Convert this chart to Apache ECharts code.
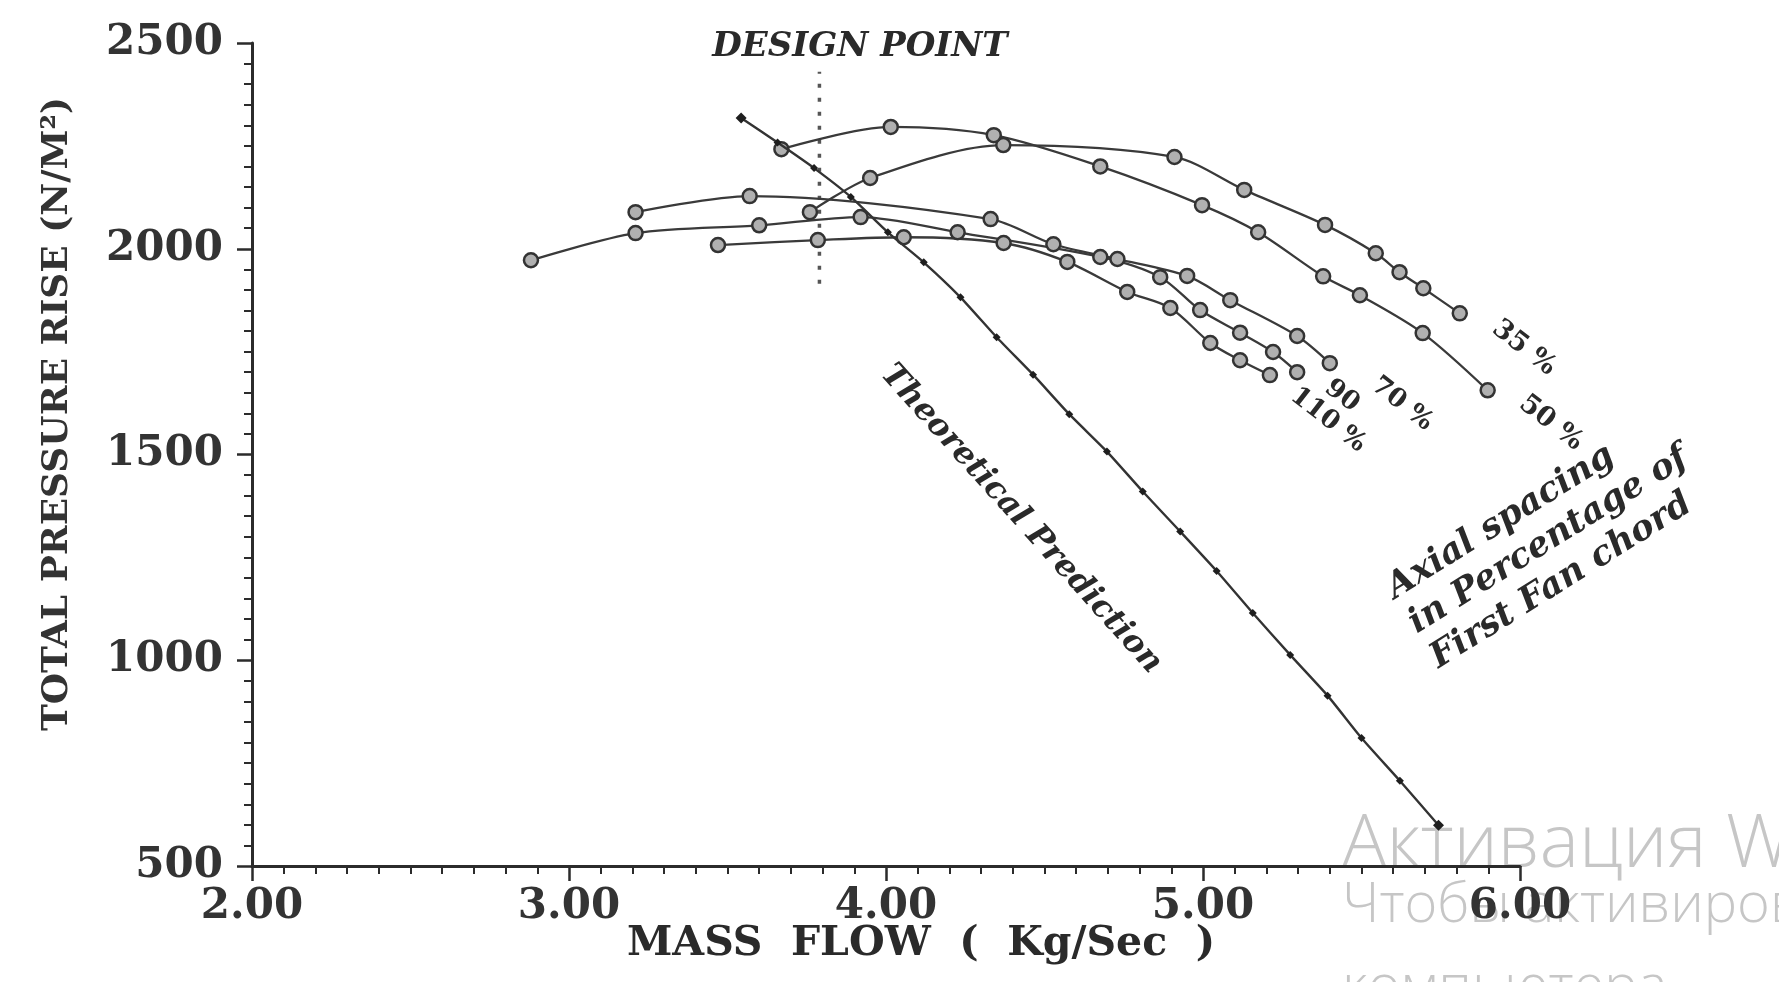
<!DOCTYPE html>
<html>
<head>
<meta charset="utf-8">
<script src="https://cdn.jsdelivr.net/npm/echarts@6.0.0/dist/echarts.min.js"></script>
<style>
html,body{margin:0;padding:0;background:#ffffff;}
#chart{width:1779px;height:982px;}
</style>
</head>
<body>
<div id="chart"></div>
<script>
// ---------- data ----------
const xTickValues = [2, 3, 4, 5, 6];
const yTickValues = [500, 1000, 1500, 2000, 2500];

// Theoretical prediction
const theoryFlow = [3.543, 3.658, 3.773, 3.889, 4.006, 4.119, 4.235, 4.349, 4.464, 4.578, 4.697, 4.810, 4.928, 5.043, 5.157, 5.275, 5.393, 5.500, 5.621, 5.743];
const theoryRise = [2318, 2258, 2196, 2126, 2040, 1967, 1882, 1785, 1694, 1598, 1507, 1410, 1313, 1217, 1115, 1013, 914, 811, 707, 599];

// Axial spacing 35 %
const flow35 = [3.76, 3.95, 4.37, 4.91, 5.13, 5.385, 5.545, 5.62, 5.695, 5.81];
const rise35 = [2089, 2172, 2252, 2223, 2143, 2058, 1989, 1943, 1904, 1843];

// Axial spacing 50 %
const flow50 = [3.67, 4.015, 4.34, 4.676, 4.997, 5.174, 5.379, 5.495, 5.693, 5.898];
const rise50 = [2242, 2296, 2276, 2200, 2106, 2040, 1933, 1887, 1795, 1656];

// Axial spacing 70 %
const flow70 = [3.21, 3.57, 4.33, 4.528, 4.73, 4.95, 5.086, 5.297, 5.40];
const rise70 = [2089, 2128, 2072, 2011, 1975, 1934, 1875, 1788, 1722];

// Axial spacing 90 %
const flow90 = [2.88, 3.21, 3.60, 3.92, 4.226, 4.676, 4.865, 4.991, 5.117, 5.221, 5.297];
const rise90 = [1972, 2038, 2057, 2077, 2040, 1980, 1931, 1851, 1796, 1749, 1700];

// Axial spacing 110 %
const flow110 = [3.47, 3.785, 4.056, 4.371, 4.572, 4.761, 4.897, 5.023, 5.117, 5.211];
const rise110 = [2009, 2021, 2028, 2014, 1968, 1895, 1856, 1771, 1729, 1693];

// Design point marker line
const designFlow = [3.79, 3.79];
const designRise = [1915, 2430];

// ---------- chart ----------
function pairs(xs, ys) { return xs.map((v, i) => [v, ys[i]]); }

const ink = '#2b2b2b';
const serif = "'DejaVu Serif', 'Liberation Serif', serif";
const wmFont = '"Open Sans", "Noto Sans", sans-serif';
const deg = Math.PI / 180;

function expSeries(name, xs, ys) {
  return {
    name: name,
    type: 'line',
    data: pairs(xs, ys),
    smooth: 0.3,
    symbol: 'circle',
    symbolSize: 14,
    showAllSymbol: true,
    lineStyle: { color: '#3a3a3a', width: 2.3 },
    itemStyle: { color: '#b0b0b0', borderColor: '#333333', borderWidth: 2.5 },
    z: 3
  };
}

const chart = echarts.init(document.getElementById('chart'), null, { renderer: 'canvas' });

const option = {
  animation: false,
  backgroundColor: '#ffffff',
  grid: { left: 252, right: 259, top: 43, bottom: 116, containLabel: false, outerBoundsMode: 'none' },
  xAxis: {
    type: 'value',
    min: xTickValues[0],
    max: xTickValues[xTickValues.length - 1],
    interval: 1,
    axisLine: { onZero: false, lineStyle: { color: ink, width: 3 } },
    axisTick: { show: true, length: 15, lineStyle: { color: ink, width: 2.5 } },
    minorTick: { show: true, splitNumber: 10, length: 8, lineStyle: { color: ink, width: 2 } },
    splitLine: { show: false },
    minorSplitLine: { show: false },
    axisLabel: {
      margin: 20,
      color: '#333',
      fontFamily: serif,
      fontWeight: 'bold',
      fontSize: 42,
      formatter: v => v.toFixed(2)
    }
  },
  yAxis: {
    type: 'value',
    min: yTickValues[0],
    max: yTickValues[yTickValues.length - 1],
    interval: 500,
    axisLine: { show: true, onZero: false, lineStyle: { color: ink, width: 3 } },
    axisTick: { show: true, length: 15, lineStyle: { color: ink, width: 2.5 } },
    minorTick: { show: true, splitNumber: 10, length: 8, lineStyle: { color: ink, width: 2 } },
    splitLine: { show: false },
    minorSplitLine: { show: false },
    axisLabel: {
      margin: 29,
      color: '#333',
      fontFamily: serif,
      fontWeight: 'bold',
      fontSize: 42,
      formatter: v => String(v)
    }
  },
  series: [
    {
      name: 'Design point',
      type: 'line',
      data: pairs(designFlow, designRise),
      symbol: 'none',
      lineStyle: { color: '#555', width: 3.5, type: [4, 10] },
      z: 1
    },
    {
      name: 'Theoretical Prediction',
      type: 'line',
      data: pairs(theoryFlow, theoryRise),
      smooth: 0.2,
      symbol: 'diamond',
      symbolSize: (v, p) => (p.dataIndex === 0 || p.dataIndex === theoryFlow.length - 1) ? 11 : 8,
      showAllSymbol: true,
      lineStyle: { color: '#333', width: 2.4 },
      itemStyle: { color: '#1e1e1e' },
      z: 4
    },
    expSeries('35 %', flow35, rise35),
    expSeries('50 %', flow50, rise50),
    expSeries('70 %', flow70, rise70),
    expSeries('90 %', flow90, rise90),
    expSeries('110 %', flow110, rise110)
  ],
  graphic: [
    // axis titles
    { type: 'text', x: 58, y: 414, rotation: 90 * deg,
      style: { text: 'TOTAL PRESSURE RISE (N/M²)', fill: '#333', font: 'bold 36px ' + serif, align: 'center', verticalAlign: 'middle' } },
    { type: 'text', x: 921, y: 944,
      style: { text: 'MASS  FLOW  (  Kg/Sec  )', fill: '#2a2a2a', font: 'bold 41px ' + serif, align: 'center', verticalAlign: 'middle' } },
    // annotations
    { type: 'text', x: 860, y: 47,
      style: { text: 'DESIGN POINT', fill: '#2a2a2a', font: 'italic bold 34px ' + serif, align: 'center', verticalAlign: 'middle' } },
    { type: 'text', x: 1021, y: 519, rotation: -48 * deg,
      style: { text: 'Theoretical Prediction', fill: '#2a2a2a', font: 'italic bold 32px ' + serif, align: 'center', verticalAlign: 'middle' } },
    { type: 'text', x: 1524, y: 348, rotation: -38 * deg,
      style: { text: '35 %', fill: '#2a2a2a', font: 'bold 27px ' + serif, align: 'center', verticalAlign: 'middle' } },
    { type: 'text', x: 1551, y: 423, rotation: -38 * deg,
      style: { text: '50 %', fill: '#2a2a2a', font: 'bold 27px ' + serif, align: 'center', verticalAlign: 'middle' } },
    { type: 'text', x: 1402, y: 404, rotation: -38 * deg,
      style: { text: '70 %', fill: '#2a2a2a', font: 'bold 26px ' + serif, align: 'center', verticalAlign: 'middle' } },
    { type: 'text', x: 1342, y: 396, rotation: -38 * deg,
      style: { text: '90', fill: '#2a2a2a', font: 'bold 26px ' + serif, align: 'center', verticalAlign: 'middle' } },
    { type: 'text', x: 1328, y: 420, rotation: -38 * deg,
      style: { text: '110 %', fill: '#2a2a2a', font: 'bold 26px ' + serif, align: 'center', verticalAlign: 'middle' } },
    { type: 'text', x: 1412, y: 626, rotation: 32 * deg,
      style: { text: 'Axial spacing\nin Percentage of\nFirst Fan chord', fill: '#2a2a2a', font: 'italic bold 35px ' + serif, align: 'left', verticalAlign: 'middle', lineHeight: 41 } },
    // screenshot watermark
    { type: 'text', x: 1342, y: 846,
      style: { text: 'Активация Windows', fill: '#c6c6c6', font: '300 74px ' + wmFont, align: 'left', verticalAlign: 'middle' } },
    { type: 'text', x: 1342, y: 906,
      style: { text: 'Чтобы активировать Windows, перейдите в параметры', fill: '#c6c6c6', font: '300 56px ' + wmFont, align: 'left', verticalAlign: 'middle' } },
    { type: 'text', x: 1342, y: 988,
      style: { text: 'компьютера.', fill: '#c6c6c6', font: '300 56px ' + wmFont, align: 'left', verticalAlign: 'middle' } }
  ]
};

chart.setOption(option);
</script>
</body>
</html>
